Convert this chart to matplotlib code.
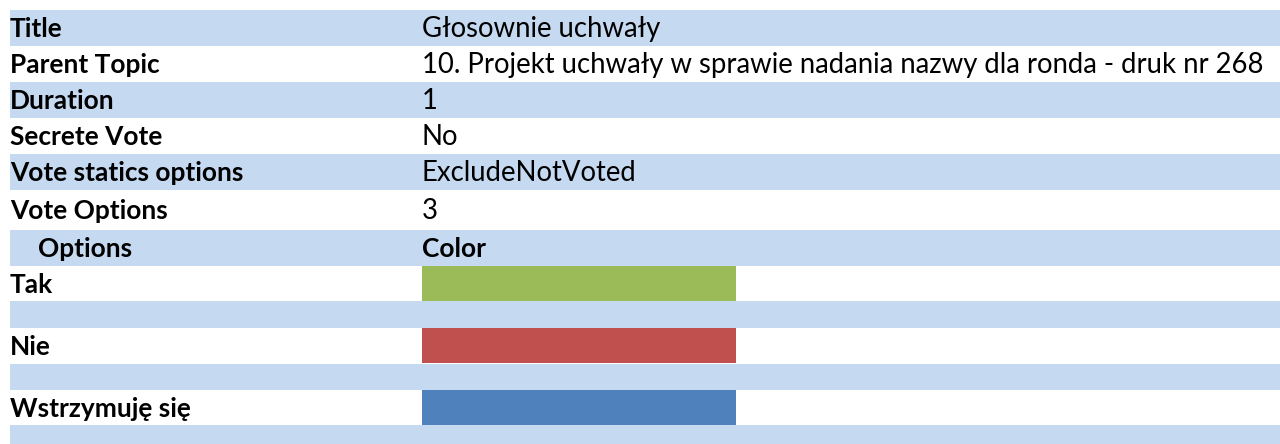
import matplotlib.pyplot as plt

# header fields of the vote
field_names = ["Title", "Parent Topic", "Duration", "Secrete Vote",
               "Vote statics options", "Vote Options"]
field_values = ["Głosownie uchwały",
                "10. Projekt uchwały w sprawie nadania nazwy dla ronda - druk nr 268",
                "1", "No", "ExcludeNotVoted", "3"]

# vote options and their colours
option_names = ["Tak", "Nie", "Wstrzymuję się"]
option_colors = ["#9BBB59", "#C0504D", "#4F81BD"]

band = "#C5D9F1"
font = "Lato"
fs = 19.8      # regular text
fsb = 18.9     # bold labels

fig = plt.figure(figsize=(12.8, 4.44), dpi=100)
ax = fig.add_axes([0, 0, 1, 1])
ax.set_xlim(0, 1280)
ax.set_ylim(444, 0)
ax.axis("off")

left = 10
col2 = 422
width = 1280 - left

# --- top table ---
row_tops = [10, 46, 82, 118, 154, 190]
row_hs = [36, 36, 36, 36, 36, 40]
for i, (name, val) in enumerate(zip(field_names, field_values)):
    yc = row_tops[i] + row_hs[i] / 2 + 1
    if i % 2 == 0:
        ax.barh(row_tops[i] + row_hs[i] / 2, width, height=row_hs[i], left=left, color=band)
    ax.text(left, yc, name, fontweight="bold", va="center", fontsize=fsb, family=font)
    ax.text(col2, yc, val, va="center", fontsize=fs, family=font)

# --- options header ---
ax.barh(248, width, height=36, left=left, color=band)
ax.text(38, 249, "Options", fontweight="bold", va="center", fontsize=fsb, family=font)
ax.text(col2, 249, "Color", fontweight="bold", va="center", fontsize=fsb, family=font)

# --- options rows ---
opt_tops = [266, 328, 390]
sep_tops = [301, 364, 425]
sep_hs = [27, 26, 19]
for i, (name, col) in enumerate(zip(option_names, option_colors)):
    yc = opt_tops[i] + 35 / 2
    ax.barh(yc, 314, height=35, left=col2, color=col)
    ax.text(left, yc + 1, name, fontweight="bold", va="center", fontsize=fsb, family=font)
    ax.barh(sep_tops[i] + sep_hs[i] / 2, width, height=sep_hs[i], left=left, color=band)

fig.savefig("out.png", dpi=100)
